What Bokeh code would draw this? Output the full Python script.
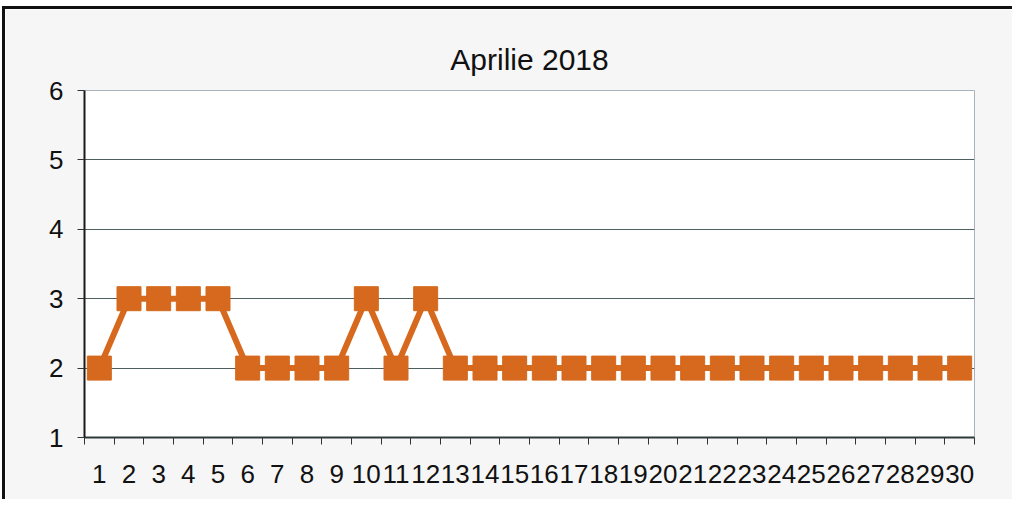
from bokeh.plotting import figure
from bokeh.models import FixedTicker, Range1d, Title
from bokeh.embed import file_html
from bokeh.resources import INLINE

title_text = "Aprilie 2018"
days = list(range(1, 31))
day_labels = [str(d) for d in days]
values = [2, 3, 3, 3, 3, 2, 2, 2, 2, 3, 2, 3, 2, 2, 2, 2, 2, 2, 2, 2,
          2, 2, 2, 2, 2, 2, 2, 2, 2, 2]
y_ticks = [1, 2, 3, 4, 5, 6]

ORANGE = "#D6691D"
FONT = "Liberation Sans"

p = figure(width=1010, height=493, output_backend="svg", toolbar_location=None,
           x_range=Range1d(0.5, 30.5), y_range=Range1d(1, 6),
           min_border_left=79, min_border_right=41, min_border_top=81,
           min_border_bottom=65)
p.styles = {"border-top": "3px solid #111", "border-left": "3px solid #111",
            "margin-top": "6px", "margin-left": "2px"}
p.background_fill_color = "white"
p.border_fill_color = "#f6f6f6"
p.outline_line_color = "#a9b3bb"
p.outline_line_width = 1

t = Title(text=title_text, align="center", text_font=FONT,
          text_font_size="30px", text_font_style="normal", text_color="#111",
          standoff=29)
p.add_layout(t, "above")

# Lines and markers
p.line(days, values, line_color=ORANGE, line_width=6)
p.scatter(days, values, marker="square", size=24, fill_color=ORANGE,
          line_color=ORANGE)

# X axis: labels at centers, ticks at boundaries
xa = p.xaxis[0]
xa.ticker = FixedTicker(ticks=days, minor_ticks=[d + 0.5 for d in range(0, 31)])
xa.major_label_overrides = {d: s for d, s in zip(days, day_labels)}
xa.major_tick_line_color = None
xa.minor_tick_out = 7
xa.minor_tick_in = 0
xa.minor_tick_line_color = "#333"
xa.minor_tick_line_width = 1
xa.axis_line_color = "#2f3b3b"
xa.axis_line_width = 2
xa.major_label_text_font = FONT
xa.major_label_text_font_size = "26px"
xa.major_label_text_color = "#111"
xa.major_label_standoff = 20

ya = p.yaxis[0]
ya.ticker = FixedTicker(ticks=y_ticks)
ya.major_tick_out = 7
ya.major_tick_in = 0
ya.minor_tick_line_color = None
ya.major_tick_line_color = "#333"
ya.axis_line_color = "#1a1a1a"
ya.axis_line_width = 2
ya.major_label_text_font = FONT
ya.major_label_text_font_size = "26px"
ya.major_label_text_color = "#111"
ya.major_label_standoff = 14

p.xgrid.grid_line_color = None
p.ygrid.ticker = FixedTicker(ticks=y_ticks)
p.ygrid.grid_line_color = "#4f5f60"
p.ygrid.grid_line_width = 1

open("out.html", "w").write(file_html(p, INLINE))
